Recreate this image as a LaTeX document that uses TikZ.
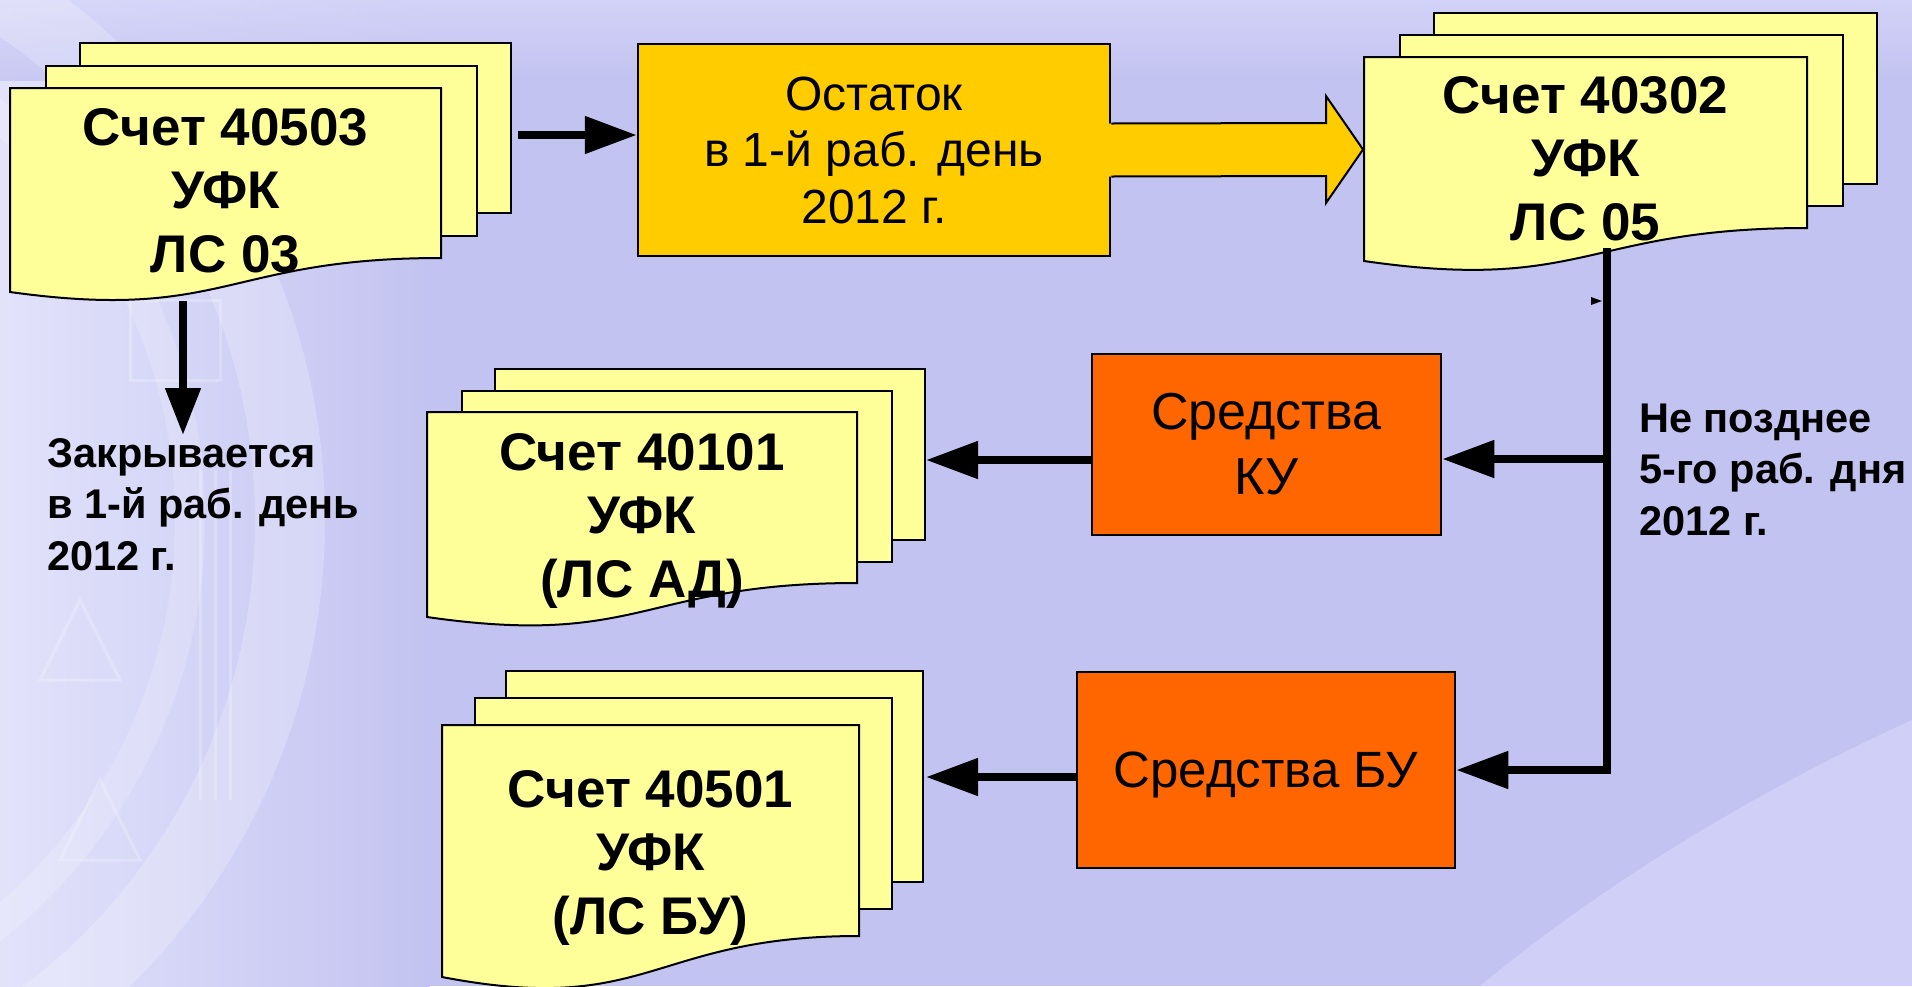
\documentclass[tikz,border=0pt]{standalone}
\usepackage{fontspec}
\setmainfont{Liberation Sans}
\usetikzlibrary{arrows.meta,calc}
\definecolor{bgc}{HTML}{C3C3F1}
\definecolor{bgtop}{HTML}{D6D6FA}
\definecolor{bglight}{HTML}{CFCFF8}
\definecolor{docY}{HTML}{FFFF99}
\definecolor{ostY}{HTML}{FFCC00}
\definecolor{orng}{HTML}{FF6600}
\newcommand\mydoc[8]{%
  \draw[docpage] ({#1+2*(#7)-2},{#2+2*(#8)}) rectangle ++(#3,#4);
  \draw[docpage] ({#1+(#7)},{#2+(#8)}) rectangle ++(#3,#4);
  \draw[docpage] (#1,#2) -- ++(#3,0) -- ++(0,#4)
     .. controls ({#1+#3/2},{#2+#4}) and ({#1+#3/2},{#2+#6}) .. ({#1},{#2+#5}) -- cycle;
}
\tikzset{
  docpage/.style={fill=docY, draw=black, line width=2pt},
  doctext/.style={anchor=base, inner sep=0pt, font=\fontsize{53}{63.5}\selectfont\bfseries},
  notetext/.style={anchor=base west, inner sep=0pt, font=\fontsize{41.5}{51.5}\selectfont\bfseries},
  box/.style={draw=black, line width=2.5pt, inner sep=0pt, align=center},
  arr/.style={line width=8pt, -{Triangle[length=52pt,width=36pt]}},
}
\begin{document}
\begin{tikzpicture}[x=1pt,y=-1pt]
\useasboundingbox (0,0) rectangle (1912,986);
% background
\fill[bgc] (0,0) rectangle (1912,986);
\shade[left color=bgtop!70!white, right color=bgc] (0,0) rectangle (430,986);
\shade[top color=bgtop, bottom color=bgc, opacity=.8] (0,0) rectangle (1912,80);
\fill[bglight] (1480,986) .. controls (1620,870) and (1780,780) .. (1912,720) -- (1912,986) -- cycle;
\begin{scope}
\clip (0,0) rectangle (1912,986);
\draw[white, opacity=.22, line width=70pt] (-330,520) circle (620);
\draw[white, opacity=.18, line width=30pt] (-330,520) circle (520);
\draw[white, opacity=.22, line width=3pt] (130,300) rectangle (220,380);
\draw[white, opacity=.22, line width=3pt] (200,470) -- (200,800) (215,470) -- (215,800) (230,470) -- (230,800);
\draw[white, opacity=.22, line width=3pt] (80,600) -- (40,680) -- (120,680) -- cycle;
\draw[white, opacity=.22, line width=3pt] (100,780) -- (60,860) -- (140,860) -- cycle;
\end{scope}

% documents
\mydoc{10}{88}{431}{170}{204}{234}{36}{-22.5}
\mydoc{1364}{57}{443}{171}{204}{236}{36}{-22}
\mydoc{427}{412}{430}{171}{205}{236}{35}{-21.5}
\mydoc{442}{725}{417}{211}{252}{292}{33}{-27}

\node[doctext] (t1) at (225.5,145) {\begin{tabular}[t]{@{}c@{}}Счет 40503\\УФК\\ЛС 03\end{tabular}};
\node[doctext] (t2) at (1585.5,113) {\begin{tabular}[t]{@{}c@{}}Счет 40302\\УФК\\ЛС 05\end{tabular}};
\node[doctext] (t3) at (642,470) {\begin{tabular}[t]{@{}c@{}}Счет 40101\\УФК\\(ЛС АД)\end{tabular}};
\node[doctext] (t4) at (650.5,807) {\begin{tabular}[t]{@{}c@{}}Счет 40501\\УФК\\(ЛС БУ)\end{tabular}};

% boxes
\node[box, fill=ostY, minimum width=472pt, minimum height=212pt, font=\fontsize{48}{56.5}\selectfont] (ost) at (874,150) {Остаток\\в 1-й раб. день\\2012 г.};
\node[box, fill=orng, minimum width=349pt, minimum height=181pt, font=\fontsize{52}{65}\selectfont] (ku) at (1266.5,444.5) {Средства\\КУ};
\node[box, fill=orng, minimum width=378pt, minimum height=196pt, text depth=0pt, font=\fontsize{51}{61}\selectfont] (bu) at (1266,770) {Средства БУ};

% notes
\node[notetext] (n1) at (47,467) {\begin{tabular}[t]{@{}l@{}}Закрывается\\в 1-й раб. день\\2012 г.\end{tabular}};
\node[notetext] (n2) at (1639,432) {\begin{tabular}[t]{@{}l@{}}Не позднее\\5-го раб. дня\\2012 г.\end{tabular}};

% coordinates
\coordinate (a1s) at (518,135);
\coordinate (dn0) at (183,301);
\coordinate (dn1) at (183,435);
\coordinate (v0) at (1607,248);
\coordinate (kus) at (1603,459);
\coordinate (kud) at (926,460);
\coordinate (bud) at (926,777);
\coordinate (tip) at (1363,149.5);

% connectors
\draw[arr] (a1s) -- (a1s -| ost.west);
\draw[line width=8pt, -{Triangle[length=47pt,width=34pt]}] (dn0) -- (dn1);
\draw[arr] (v0) |- (bu.east);
\draw[arr] (kus) -- (kus -| ku.east);
\draw[arr] (kud -| ku.west) -- (kud);
\draw[arr] (bud -| bu.west) -- (bud);
\fill (1591,297) -- (1602,301) -- (1591,305) -- cycle;

% block arrow
\fill[ostY] ($(ost.east)+(-3,-26.5)$) -- ($(tip)+(-37,-26.5)$) -- ($(tip)+(-37,-53.5)$) -- (tip)
   -- ($(tip)+(-37,53.5)$) -- ($(tip)+(-37,26.5)$) -- ($(ost.east)+(-3,26.5)$) -- cycle;
\draw[line width=2pt, line join=miter] ($(ost.east)+(0,-26.5)$) -- ($(tip)+(-37,-26.5)$) -- ($(tip)+(-37,-53.5)$) -- (tip)
   -- ($(tip)+(-37,53.5)$) -- ($(tip)+(-37,26.5)$) -- ($(ost.east)+(0,26.5)$);
\end{tikzpicture}
\end{document}
